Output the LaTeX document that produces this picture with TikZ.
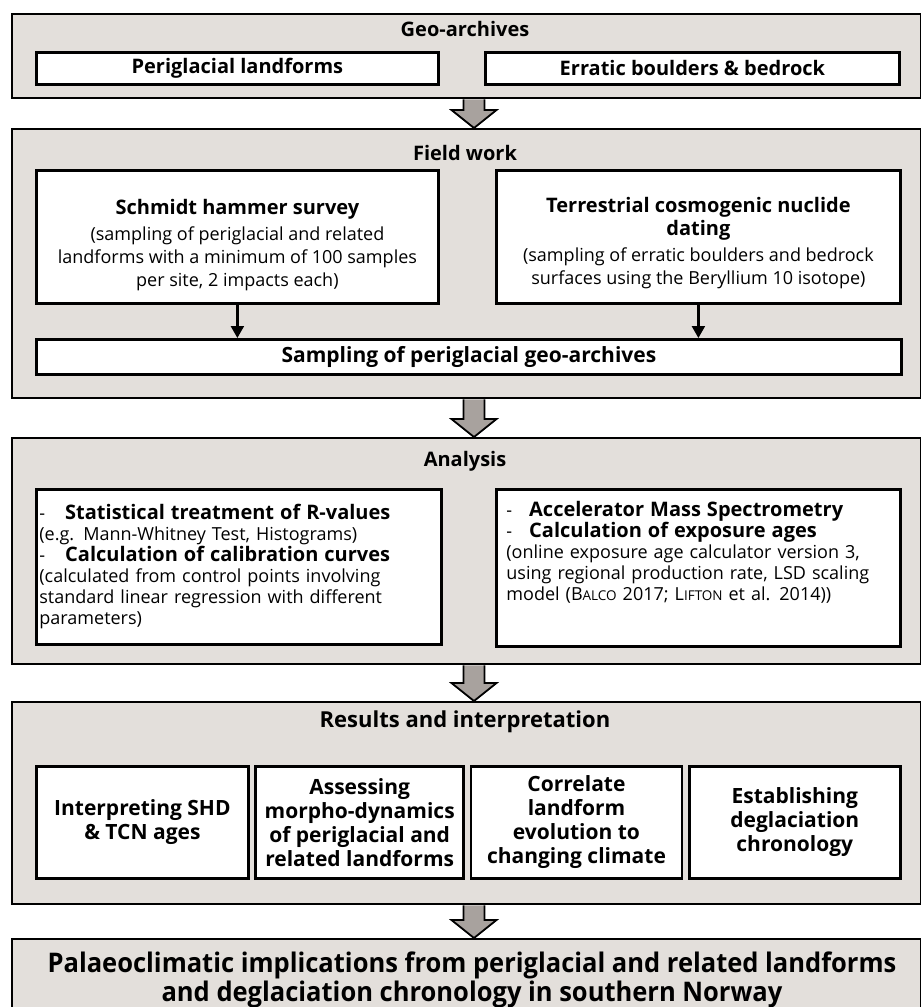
\documentclass[tikz,border=0pt]{standalone}
\usepackage{fontspec}
\setmainfont{Open Sans}
\newfontfamily\condfont{Open Sans}[FakeStretch=0.945]
\usetikzlibrary{positioning, arrows.meta, calc}

\definecolor{stagegray}{HTML}{E3DFDB}
\definecolor{arrowgray}{HTML}{A8A29E}

\newcommand{\fsc}[2]{#1{\fontsize{13.5}{13.5}\selectfont #2}}
\newcommand{\stagearrow}[2]{%
  \draw[stagearrow] let \p1=(#1.south), \p2=(#2.north) in
    (463.5pt,\y1) -- (463.5pt,{\y2+18pt}) -- (451.5pt,{\y2+18pt}) -- (474pt,\y2)
    -- (496.5pt,{\y2+18pt}) -- (484.5pt,{\y2+18pt}) -- (484.5pt,\y1);}

\tikzset{
  stage/.style={draw, line width=2.4pt, fill=stagegray, anchor=north west, minimum width=909pt},
  box/.style={draw, line width=2.8pt, fill=white, anchor=north west, align=center, inner sep=2pt},
  head/.style={font=\fontsize{20}{24}\selectfont\bfseries},
  bighead/.style={font=\fontsize{21}{24}\selectfont\bfseries},
  note/.style={font=\fontsize{18}{23}\selectfont},
  stagearrow/.style={draw, line width=1.8pt, fill=arrowgray, line join=miter},
  smallarrow/.style={line width=2.2pt, -{Triangle[length=12pt,width=13pt]}}
}

\begin{document}
\begin{tikzpicture}[x=1pt, y=-1pt]
\useasboundingbox (0,0) rectangle (921,1007);

% geo-archives
\node[stage, minimum height=84pt] (geo) at (11,13) {};
\node[head] (geotitle) at (465,29) {Geo-archives};
\node[box, head, minimum width=402pt, minimum height=32pt] (landforms) at (35,51) {Periglacial landforms};
\node[box, head, minimum width=414pt, minimum height=32pt] (boulders) at (484,51) {Erratic boulders \& bedrock};

% field work
\node[stage, minimum height=269pt] (field) at (11,128) {};
\node[head] (fieldtitle) at (465,153) {Field work};
\node[box, note, minimum width=402pt, minimum height=133pt] (schmidt) at (35,169)
  {\rule{0pt}{31pt}{\bfseries\fontsize{20}{24}\selectfont Schmidt hammer survey}\\[3pt]
   (sampling of periglacial and related\\
   landforms with a minimum of 100 samples\\
   per site, 2 impacts each)};
\node[box, note, minimum width=404pt, minimum height=133pt] (tcn) at (495,169)
  {\rule{0pt}{27pt}{\bfseries\fontsize{20}{24}\selectfont Terrestrial cosmogenic nuclide}\\
   {\bfseries\fontsize{20}{24}\selectfont dating}\\[3pt]
   (sampling of erratic boulders and bedrock\\
   surfaces using the Beryllium 10 isotope)};
\node[box, bighead, minimum width=865pt, minimum height=35pt] (sampling) at (35,338) {Sampling of periglacial geo-archives};

\draw[smallarrow] (schmidt) -- (schmidt.south |- sampling.north);
\draw[smallarrow] (tcn) -- (tcn.south |- sampling.north);

% analysis
\node[stage, minimum height=226pt] (analysis) at (11,437) {};
\node[head] (analysistitle) at (465,461) {Analysis};
\node[box, font=\fontsize{18}{21}\selectfont, align=left, text width=399pt, inner xsep=3pt, minimum height=155pt] (rvalues) at (35,488)
  {-\hspace{20pt}{\bfseries\fontsize{20}{21}\selectfont Statistical treatment of R-values}\\
   (e.g. Mann-Whitney Test, Histograms)\\
   -\hspace{20pt}{\bfseries\fontsize{20}{21}\selectfont Calculation of calibration curves}\\
   (calculated from control points involving\\
   standard linear regression with different\\
   parameters)};
\node[box, font=\fontsize{18}{21}\selectfont, align=left, text width=384pt, inner xsep=10pt, minimum height=157pt] (exposure) at (495,488)
  {-\hspace{17pt}{\bfseries\fontsize{20}{21}\selectfont Accelerator Mass Spectrometry}\\
   -\hspace{17pt}{\bfseries\fontsize{20}{21}\selectfont Calculation of exposure ages}\\
   (online exposure age calculator version 3,\\
   using regional production rate, LSD scaling\\
   model (\fsc{B}{ALCO} 2017; \fsc{L}{IFTON} et al. 2014))\\[13pt]
   \mbox{}};

% results and interpretation
\node[stage, minimum height=202pt] (results) at (11,701) {};
\node[font=\fontsize{22}{24}\selectfont\bfseries] (resultstitle) at (465,722) {Results and interpretation};
\node[box, bighead, minimum width=212pt, minimum height=112pt] (interp) at (35,765) {Interpreting SHD\\\& TCN ages};
\node[box, bighead, minimum width=208pt, minimum height=112pt, anchor=west, right=4.5pt of interp] (morpho) {Assessing\\morpho-dynamics\\of periglacial and\\related landforms};
\node[box, bighead, minimum width=211pt, minimum height=112pt, anchor=west, right=4.5pt of morpho] (climate) {Correlate\\landform\\evolution to\\changing climate};
\node[box, bighead, minimum width=211pt, minimum height=112pt, anchor=west, right=4.5pt of climate] (chrono) {Establishing\\deglaciation\\chronology};

% implications
\node[stage, minimum height=90pt] (final) at (11,938) {};
\node[font=\condfont\bfseries\fontsize{27}{29}\selectfont, align=center] (finaltitle) at (472,980)
  {Palaeoclimatic implications from periglacial and related landforms\\
   and deglaciation chronology in southern Norway};

\stagearrow{geo}{field}
\stagearrow{field}{analysis}
\stagearrow{analysis}{results}
\stagearrow{results}{final}
\end{tikzpicture}
\end{document}
